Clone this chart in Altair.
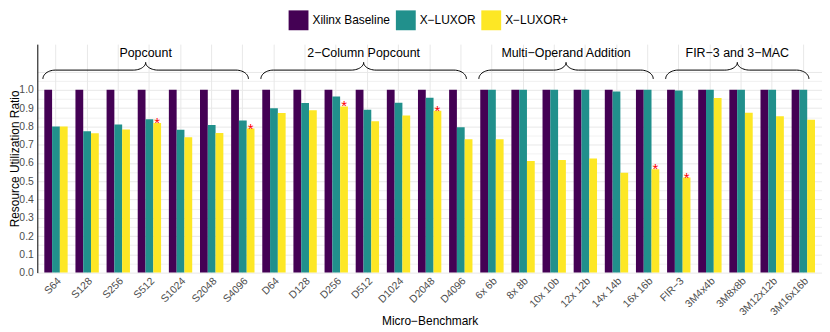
import altair as alt
import pandas as pd
import numpy as np

categories = ["S64", "S128", "S256", "S512", "S1024", "S2048", "S4096",
              "D64", "D128", "D256", "D512", "D1024", "D2048", "D4096",
              "6x 6b", "8x 8b", "10x 10b", "12x 12b", "14x 14b", "16x 16b",
              "FIR−3", "3M4x4b", "3M8x8b", "3M12x12b", "3M16x16b"]
series_names = ["Xilinx Baseline", "X−LUXOR", "X−LUXOR+"]
baseline = [1.0, 1.0, 1.0, 1.0, 1.0, 1.0, 1.0,
            1.0, 1.0, 1.0, 1.0, 1.0, 1.0, 1.0,
            1.0, 1.0, 1.0, 1.0, 1.0, 1.0,
            1.0, 1.0, 1.0, 1.0, 1.0]
xluxor = [0.800, 0.774, 0.810, 0.839, 0.781, 0.808, 0.832,
          0.899, 0.928, 0.964, 0.891, 0.929, 0.957, 0.795,
          1.000, 1.000, 1.000, 1.000, 0.991, 1.000,
          0.996, 1.000, 1.000, 1.000, 1.000]
xluxor_plus = [0.800, 0.763, 0.783, 0.819, 0.741, 0.764, 0.788,
               0.873, 0.888, 0.909, 0.828, 0.859, 0.886, 0.730,
               0.730, 0.610, 0.616, 0.625, 0.547, 0.565,
               0.520, 0.955, 0.875, 0.855, 0.837]
starred = ["S512", "S4096", "D256", "D2048", "16x 16b", "FIR−3"]
group_names = ["Popcount", "2−Column Popcount", "Multi−Operand Addition", "FIR−3 and 3−MAC"]
group_first = [0, 7, 14, 20]
group_last = [6, 13, 19, 24]
colors = ["#440154", "#21908C", "#FDE725"]

FONT = "Liberation Sans"

rows = []
for i, c in enumerate(categories):
    for s, vals in zip(series_names, [baseline, xluxor, xluxor_plus]):
        rows.append({"cat": c, "series": s, "value": vals[i]})
bars_df = pd.DataFrame(rows)

stars_df = pd.DataFrame({
    "cat": starred,
    "series": ["X−LUXOR+"] * len(starred),
    "value": [xluxor_plus[categories.index(c)] for c in starred],
})

# curly braces over each benchmark group (shape built from group indices)
y0, y1, y2, r = 1.06, 1.108, 1.15, 0.4
brace_rows = []
label_rows = []
t = np.linspace(0, np.pi / 2, 14)
for name, f, l in zip(group_names, group_first, group_last):
    xl, xr = f - 0.42, l + 0.18
    xm = (xl + xr) / 2
    left = [(xl + r - r * np.cos(a), y0 + (y1 - y0) * np.sin(a)) for a in t]
    left += [(xm - r + r * np.sin(a), y2 - (y2 - y1) * np.cos(a)) for a in t]
    right = [(2 * xm - x, y) for (x, y) in reversed(left)]
    for k, (x, y) in enumerate(left + right):
        brace_rows.append({"group": name, "bx": x, "value": y, "ord": k})
    label_rows.append({"group": name, "bx": xm, "value": 1.204})
brace_df = pd.DataFrame(brace_rows)
label_df = pd.DataFrame(label_rows)

x_scale = alt.Scale(domain=categories, paddingInner=0.25, paddingOuter=0.225)
off = alt.XOffset("series:N", scale=alt.Scale(domain=series_names))
y_scale = alt.Scale(domain=[0, 1.25], nice=False, zero=True)
q_scale = alt.Scale(domain=[-0.6, 24.6], nice=False, zero=False)

yvals = [round(0.05 * k, 2) for k in range(23)]

y_axis = alt.Axis(title="Resource Utilization Ratio", values=yvals,
                  labelExpr="datum.value <= 1.0001 && round(datum.value*20) % 2 == 0 ? format(datum.value, '.1f') : ''",
                  grid=True, gridColor="#e8e8e8",
                  gridWidth={"condition": {"test": "round(datum.value*20) % 2 == 0", "value": 1}, "value": 0.6},
                  domain=True, domainColor="black", domainWidth=1, ticks=False,
                  labelPadding=4, labelFontSize=10.5, labelColor="#4d4d4d",
                  titleFontSize=12, titleFontWeight="normal", titleColor="black",
                  titleX=-23, titleBaseline="middle")
Y = alt.Y("value:Q", scale=y_scale, axis=y_axis, title="Resource Utilization Ratio")

bars = alt.Chart(bars_df).mark_bar().encode(
    x=alt.X("cat:N", scale=x_scale, sort=categories,
            axis=alt.Axis(title="Micro−Benchmark", labelAngle=-45, labelAlign="right",
                          labelBaseline="top", labelPadding=3, domain=False, ticks=False,
                          grid=True, gridColor="#e8e8e8", gridWidth=1, bandPosition=0.5,
                          labelFontSize=10.5, labelColor="#4d4d4d",
                          titleFontSize=12, titleFontWeight="normal", titleColor="black",
                          titleY=43, titleBaseline="top")),
    xOffset=off,
    y=Y,
    color=alt.Color("series:N", scale=alt.Scale(domain=series_names, range=colors),
                    legend=alt.Legend(orient="none", legendX=253, legendY=-34, direction="horizontal",
                                      title=None, symbolType="square", symbolSize=400,
                                      symbolStrokeWidth=0, labelFontSize=12, labelFont=FONT,
                                      labelColor="black", columnPadding=5, labelOffset=4, padding=0)),
)

stars = alt.Chart(stars_df).mark_text(text="*", color="red", fontSize=15, baseline="alphabetic",
                                      dy=5, font=FONT).encode(
    x=alt.X("cat:N", scale=x_scale, sort=categories, axis=None),
    xOffset=off,
    y=Y,
)

braces = alt.Chart(brace_df).mark_line(color="black", strokeWidth=1).encode(
    x=alt.X("bx:Q", scale=q_scale, axis=None),
    y=Y,
    detail="group:N",
    order="ord:Q",
)

labels = alt.Chart(label_df).mark_text(fontSize=12.5, font=FONT, color="black", baseline="middle").encode(
    x=alt.X("bx:Q", scale=q_scale, axis=None),
    y=Y,
    text="group:N",
)

chart = alt.layer(bars, stars, braces, labels).resolve_scale(x="independent").properties(
    width=790, height=230,
    autosize=alt.AutoSizeParams(type="none"),
    padding={"left": 29.5, "top": 35.3, "right": 0, "bottom": 60},
    background="white",
).configure_view(stroke=None).configure_axis(labelFont=FONT, titleFont=FONT)

chart.save("out.html", embed_options={"renderer": "svg", "actions": False})
